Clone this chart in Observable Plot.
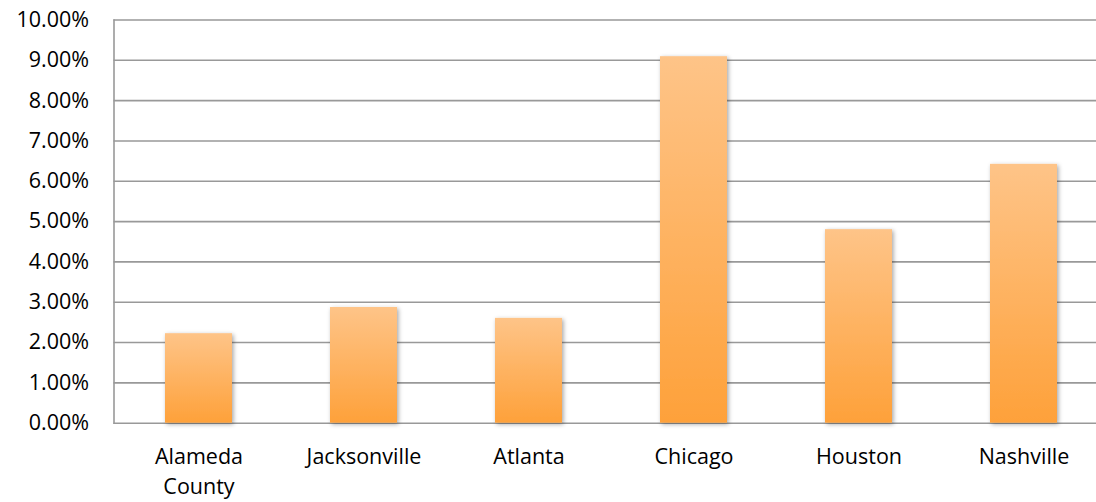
<!DOCTYPE html>
<html>
<head>
<meta charset="utf-8">
<script src="https://cdn.jsdelivr.net/npm/d3@7"></script>
<script src="https://cdn.jsdelivr.net/npm/@observablehq/plot@0.6"></script>
<style>
  html, body { margin: 0; padding: 0; background: #fff; }
  svg { display: block; }
</style>
</head>
<body>
<div id="chart"></div>
<script>
const categories = ["Alameda County", "Jacksonville", "Atlanta", "Chicago", "Houston", "Nashville"];
const tickLabels = ["Alameda\nCounty", "Jacksonville", "Atlanta", "Chicago", "Houston", "Nashville"];
const values = [2.22, 2.87, 2.60, 9.09, 4.80, 6.42];
const yTicks = [0, 1, 2, 3, 4, 5, 6, 7, 8, 9, 10];

const data = categories.map((c, i) => ({category: c, value: values[i]}));
const labelOf = new Map(categories.map((c, i) => [c, tickLabels[i]]));

const defs = () => {
  const ns = "http://www.w3.org/2000/svg";
  const d = document.createElementNS(ns, "defs");
  d.innerHTML = `
    <linearGradient id="barGrad" x1="0" y1="0" x2="0" y2="1">
      <stop offset="0%" stop-color="#FEC488"/>
      <stop offset="100%" stop-color="#FEA13A"/>
    </linearGradient>
    <filter id="barShadow" x="-20%" y="-20%" width="140%" height="140%">
      <feDropShadow dx="1.5" dy="1.5" stdDeviation="2" flood-color="#000" flood-opacity="0.35"/>
    </filter>`;
  return d;
};

const plot = Plot.plot({
  width: 1096,
  height: 502,
  marginTop: 19.5,
  marginBottom: 79.3,
  marginLeft: 113.5,
  marginRight: 0,
  style: {fontFamily: "'Open Sans', sans-serif", fontSize: "21.5px", color: "#000", background: "#fff"},
  x: {domain: categories, range: [113.5, 1107.5], paddingInner: 0.595, paddingOuter: 0.2975, align: 0.5, label: null},
  y: {domain: [0, 10], label: null},
  marks: [
    defs,
    Plot.ruleY(yTicks, {stroke: "#999", strokeWidth: 1.6, strokeOpacity: 1}),
    Plot.frame({anchor: "left", stroke: "#999", strokeWidth: 1.6, strokeOpacity: 1}),
    Plot.barY(data, {x: "category", y: "value", fill: "url(#barGrad)"}),
    Plot.axisY({ticks: yTicks, tickSize: 0, tickPadding: 25, tickFormat: d => d.toFixed(2) + "%", label: null, fontSize: 21.5}),
    Plot.axisX({tickSize: 0, tickPadding: 20, tickFormat: d => labelOf.get(d), label: null, fontSize: 21.5, lineHeight: 1.38})
  ]
});

d3.select(plot).selectAll("g[aria-label='bar'] rect").attr("filter", "url(#barShadow)");
d3.select(plot).selectAll("g[aria-label='y-axis tick label'] text, g[aria-label='x-axis tick label'] text").attr("fill", "#000");
document.getElementById("chart").appendChild(plot);
</script>
</body>
</html>
